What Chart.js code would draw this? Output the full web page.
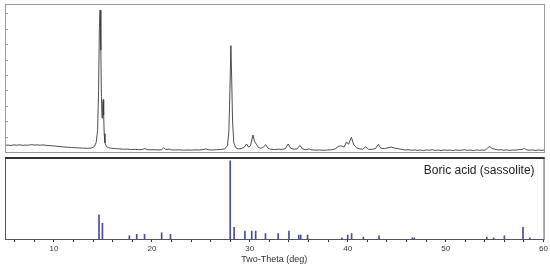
<!DOCTYPE html>
<html>
<head>
<meta charset="utf-8">
<script src="https://cdn.jsdelivr.net/npm/chart.js@4.4.0/dist/chart.umd.min.js"></script>
<style>
  html, body { margin: 0; padding: 0; background: #fff; }
  #wrap { position: relative; width: 550px; height: 269px; }
  #scan { position: absolute; left: 0; top: 0; }
  #ref { position: absolute; left: 0; top: 155px; }
</style>
</head>
<body>
<div id="wrap">
  <canvas id="scan" width="550" height="155"></canvas>
  <canvas id="ref" width="550" height="114"></canvas>
</div>
<script>
// --- measured pattern (two-theta, counts, arbitrary units) ---
const scanTheta = [
  5.0, 5.3, 5.6, 5.9, 6.2, 6.5, 6.8, 7.1, 7.4, 7.7, 8.0, 8.3, 8.6, 8.9, 9.2, 9.5, 9.8,
  10.2, 10.6, 11.0, 11.4, 11.8, 12.2, 12.6, 13.0, 13.4, 13.8, 14.1, 14.3, 14.45, 14.55,
  14.63, 14.7, 14.78, 14.84, 14.9, 14.96, 15.02, 15.07, 15.12, 15.2, 15.35, 15.6, 15.9,
  16.3, 16.7, 17.1, 17.5, 17.9, 18.3, 18.7, 19.0, 19.3, 19.5, 19.9, 20.3, 20.7, 21.0,
  21.2, 21.4, 21.8, 22.0, 22.4, 22.8, 23.2, 23.6, 24.0, 24.4, 24.8, 25.2, 25.5, 25.8,
  26.2, 26.6, 27.0, 27.4, 27.7, 27.85, 27.95, 28.05, 28.13, 28.22, 28.35, 28.55, 28.8,
  29.1, 29.4, 29.65, 29.85, 30.05, 30.3, 30.45, 30.65, 30.85, 31.1, 31.35, 31.6, 31.85,
  32.1, 32.5, 32.9, 33.3, 33.6, 33.9, 34.15, 34.5, 34.8, 35.1, 35.35, 35.7, 36.0, 36.3,
  36.7, 37.1, 37.5, 37.9, 38.3, 38.7, 39.0, 39.3, 39.6, 39.85, 40.05, 40.35, 40.6, 40.9,
  41.2, 41.5, 41.8, 42.1, 42.5, 42.8, 43.1, 43.35, 43.7, 44.0, 44.4, 44.7, 45.0, 45.3,
  45.6, 45.9, 46.2, 46.5, 46.8, 47.1, 47.4, 47.7, 48.0, 48.3, 48.6, 48.9, 49.2, 49.5,
  49.8, 50.1, 50.4, 50.7, 51.0, 51.3, 51.6, 51.9, 52.2, 52.5, 52.8, 53.1, 53.4, 53.7,
  54.0, 54.2, 54.4, 54.7, 55.0, 55.3, 55.6, 55.9, 56.2, 56.5, 56.8, 57.1, 57.4, 57.7,
  58.0, 58.2, 58.5, 58.8, 59.1, 59.4, 59.7, 60.0
];
const scanCounts = [
  4.3, 4.5, 4.2, 4.6, 4.4, 4.7, 4.3, 4.5, 4.4, 4.8, 4.5, 4.6, 4.4, 4.6, 4.3, 4.2, 4.0,
  3.8, 3.5, 3.3, 3.1, 2.9, 2.8, 2.6, 2.5, 2.4, 2.6, 3.4, 6, 14, 40,
  80, 92, 66, 36, 22, 30, 34, 24, 12, 6, 3.5, 2.7, 2.4,
  2.2, 2.0, 1.8, 1.9, 1.6, 1.7, 1.5, 1.6, 2.3, 1.5, 1.4, 1.5, 1.3, 1.6,
  2.8, 1.6, 1.9, 1.4, 1.3, 1.4, 1.2, 1.3, 1.2, 1.4, 1.3, 1.5, 2.0, 1.4,
  1.3, 1.5, 1.6, 2.0, 4, 14, 40, 69, 48, 20, 6, 2.8, 2.0,
  2.2, 3.0, 5.2, 3.2, 4.0, 11, 7, 5, 3, 2.4, 3.0, 4.8, 2.4,
  1.8, 1.6, 1.8, 1.7, 2.2, 5.2, 2.4, 1.8, 2.0, 4.3, 2.0, 1.5, 2.0, 1.4,
  1.2, 1.3, 1.1, 1.3, 1.4, 2.0, 3.6, 4.0, 3.2, 6.5, 5.0, 9.5, 4.5, 2.6,
  2.0, 1.8, 3.3, 1.7, 1.8, 2.2, 5.0, 2.4, 2.2, 2.6, 3.2, 2.6, 2.3, 1.9,
  1.6, 1.3, 1.5, 1.1, 1.4, 1.0, 1.3, 0.9, 1.4, 1.1, 1.5, 1.0, 1.3, 0.9,
  1.4, 1.1, 1.3, 0.9, 1.4, 1.0, 1.2, 1.5, 1.0, 1.3, 0.9, 1.4, 1.1, 1.3,
  1.2, 2.2, 3.6, 2.4, 1.8, 1.3, 1.5, 1.1, 1.4, 1.0, 1.3, 1.2, 1.5, 1.6,
  2.4, 1.5, 1.1, 1.4, 1.0, 1.3, 1.1, 1.2
];
const countTicks = [10, 20, 30, 40, 50, 60, 70, 80, 90];

// --- reference card: boric acid (sassolite) ---
const stickTheta = [
  14.6, 14.95, 17.7, 18.45, 19.25, 21.0, 21.9, 28.0, 28.4, 29.5, 30.2, 30.6, 31.6, 32.9,
  34.0, 35.0, 35.2, 35.9, 39.4, 40.0, 40.4, 41.6, 43.2, 46.6, 46.8, 54.2, 54.9, 56.0,
  57.9, 58.6
];
const stickIntensity = [
  31, 20, 4, 6, 6, 8, 6, 100, 15, 10, 10, 10, 7, 7,
  10, 5, 5, 5, 1.5, 5, 7, 2.5, 4, 1.5, 1.5, 2.5, 1.5, 4,
  15, 1.5
];
const phaseName = 'Boric acid (sassolite)';
const axisTitle = 'Two-Theta (deg)';

const sans = '"Liberation Sans", Arial, sans-serif';

// caja alrededor del área de datos
const framePlugin = {
    id: 'frame',
    afterDraw(chart, args, opts) {
        const { ctx, chartArea: a } = chart;
        ctx.save();
        ctx.strokeStyle = opts.color;
        ctx.lineWidth = 1;
        ctx.strokeRect(a.left + 0.5, a.top + 0.5, a.right - a.left, a.bottom - a.top);
        if (opts.topColor) {
            ctx.strokeStyle = opts.topColor;
            ctx.lineWidth = 2;
            ctx.beginPath();
            ctx.moveTo(a.left, a.top + 1);
            ctx.lineTo(a.right + 1, a.top + 1);
            ctx.stroke();
        }
        // marcas interiores en el eje vertical
        if (opts.innerTicks) {
            const y = chart.scales.y;
            ctx.strokeStyle = '#999';
            ctx.lineWidth = 1;
            opts.innerTicks.forEach(v => {
                const py = Math.round(y.getPixelForValue(v)) + 0.5;
                ctx.beginPath();
                ctx.moveTo(a.left, py);
                ctx.lineTo(a.left + 3, py);
                ctx.stroke();
            });
        }
        if (opts.label) {
            ctx.fillStyle = '#222';
            ctx.font = '12px ' + sans;
            ctx.textAlign = 'right';
            ctx.textBaseline = 'alphabetic';
            ctx.fillText(opts.label, a.right - 9, a.top + 17);
        }
        ctx.restore();
    }
};

new Chart(document.getElementById('scan'), {
    type: 'line',
    plugins: [framePlugin],
    data: {
        datasets: [{
            data: scanTheta.map((t, i) => ({ x: t, y: scanCounts[i] })),
            borderColor: '#3a3a3a',
            borderWidth: 0.9,
            pointRadius: 0,
            tension: 0,
            fill: false
        }]
    },
    options: {
        responsive: false,
        animation: false,
        layout: { padding: { left: 5, top: 4, right: 6, bottom: 3 } },
        plugins: {
            legend: { display: false },
            tooltip: { enabled: false },
            frame: { color: '#9a9a9a', innerTicks: countTicks }
        },
        scales: {
            x: { type: 'linear', min: 5, max: 60, display: false },
            y: { min: 0, max: 96, display: false }
        }
    }
});

new Chart(document.getElementById('ref'), {
    type: 'bar',
    plugins: [framePlugin],
    data: {
        datasets: [{
            data: stickTheta.map((t, i) => ({ x: t, y: stickIntensity[i] })),
            backgroundColor: '#4a4aa0',
            barThickness: 1
        }]
    },
    options: {
        responsive: false,
        animation: false,
        layout: { padding: { left: 5, top: 2, right: 6, bottom: 0 } },
        plugins: {
            legend: { display: false },
            tooltip: { enabled: false },
            frame: { color: '#555', topColor: '#333', label: phaseName }
        },
        scales: {
            x: {
                type: 'linear',
                min: 5,
                max: 60,
                offset: false,
                afterFit(scale) { scale.height = 30; },
                grid: { display: true, offset: false, drawOnChartArea: false, drawTicks: true, tickLength: 3, color: '#333' },
                border: { display: true, color: '#222', width: 1 },
                ticks: {
                    stepSize: 2,
                    includeBounds: false,
                    autoSkip: false,
                    maxRotation: 0,
                    padding: 2,
                    color: '#333',
                    font: { family: sans, size: 8 },
                    callback: v => (v % 10 === 0 ? v : '')
                },
                title: {
                    display: true,
                    text: axisTitle,
                    color: '#333',
                    font: { family: sans, size: 9 },
                    padding: { top: 0, bottom: 4 }
                }
            },
            y: { min: 0, max: 105, display: false }
        }
    }
});
</script>
</body>
</html>
